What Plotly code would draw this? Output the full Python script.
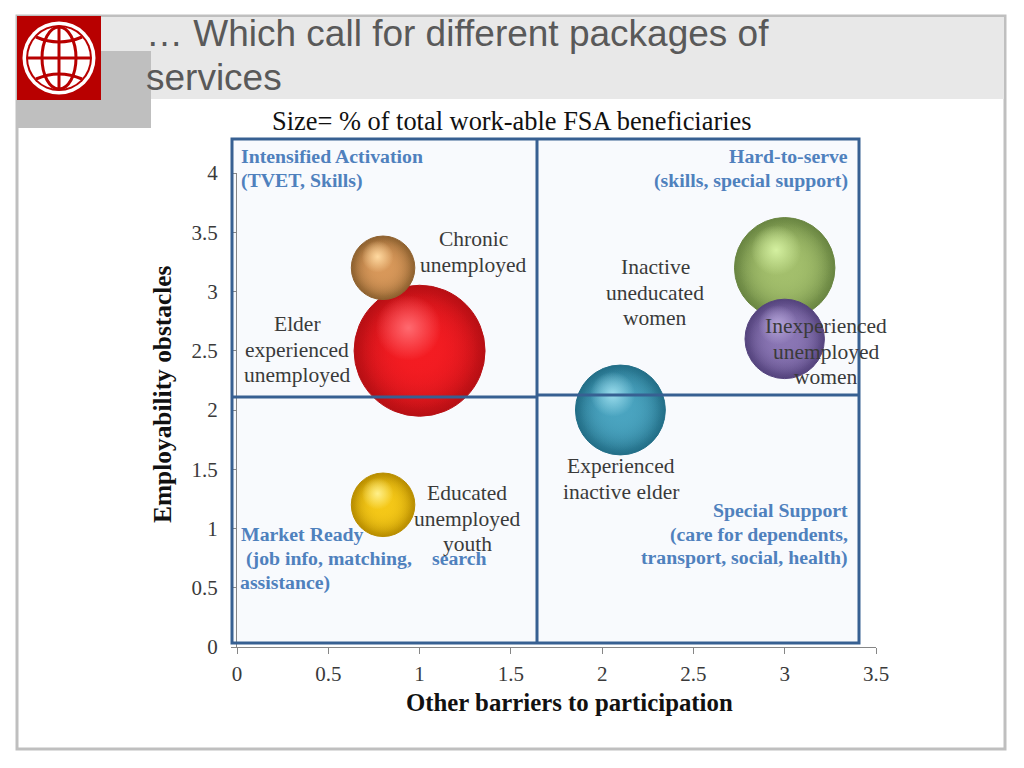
import plotly.graph_objects as go

# the page body keeps its 8px margin, so the figure is drawn that much smaller
PAGE_W, PAGE_H = 1024, 768
BODY = 8
W, H = PAGE_W - BODY, PAGE_H - BODY

# bubbles, draw order matters (orange sits on red, purple on green)
x_vals = [1.0, 0.8, 0.8, 2.1, 3.0, 3.0]
y_vals = [2.5, 3.2, 1.2, 2.0, 3.2, 2.6]
shares = [34, 8, 8, 16, 20, 12.5]
ball_colors = ["#f41c22", "#d8985a", "#f5c818", "#4aa4c0", "#a3bf6c", "#8a76b4"]
edge_colors = ["#b80f14", "#8f6230", "#b98e00", "#236f88", "#6a8642", "#55447e"]
glow_colors = ["#ff6a70", "#ffd9a0", "#fff08a", "#9adcec", "#d4f0a0", "#b4a4d8"]

x_ticks = [0, 0.5, 1, 1.5, 2, 2.5, 3, 3.5]
y_ticks = [0, 0.5, 1, 1.5, 2, 2.5, 3, 3.5, 4]

title_lines = ["… Which call for different packages of", "services"]
subtitle = "Size= % of total work-able FSA beneficiaries"
x_title = "Other barriers to participation"
y_title = "Employability obstacles"

# text, centre x px, first line y px
bubble_labels = [
    (["Chronic", "unemployed"], 473, 239),
    (["Inactive", "uneducated", "women"], 655, 267),
    (["Inexperienced", "unemployed", "women"], 826, 326),
    (["Elder", "experienced", "unemployed"], 297, 324),
    (["Experienced", "inactive elder"], 621, 466),
    (["Educated", "unemployed", "youth"], 467, 493),
]

# text, x px, y px, anchor
box_labels = [
    ("Intensified Activation", 241, 156, "left"),
    ("(TVET, Skills)", 241, 180, "left"),
    ("Hard-to-serve", 848, 156, "right"),
    ("(skills, special support)", 848, 180, "right"),
    ("Market Ready", 241, 534, "left"),
    ("(job info, matching,", 246, 558, "left"),
    ("search", 432, 558, "left"),
    ("assistance)", 240, 582, "left"),
    ("Special Support", 848, 510, "right"),
    ("(care for dependents,", 848, 534, "right"),
    ("transport, social, health)", 848, 557, "right"),
]

BLUE = "#376092"
SIZEREF = 2 * 34 / 131 ** 2
X_PX = (876 - 237) / 3.5
Y_PX = (647 - 173) / 4


def px(x):
    return (x - BODY) / W


def py(y):
    return 1 - (y - BODY) / H


def clear(color):
    r, g, b = int(color[1:3], 16), int(color[3:5], 16), int(color[5:7], 16)
    return f"rgba({r},{g},{b},0)"


def rect(x0, y0, x1, y1, fill=None, line=None, width=0, layer="below"):
    return dict(type="rect", xref="paper", yref="paper", x0=px(x0), x1=px(x1), y0=py(y0), y1=py(y1),
                fillcolor=fill, line=dict(color=line, width=width), layer=layer)


def seg(x0, y0, x1, y1, color=BLUE, width=3):
    return dict(type="line", xref="paper", yref="paper", x0=px(x0), x1=px(x1), y0=py(y0), y1=py(y1),
                line=dict(color=color, width=width), layer="above")


def oval(cx, cy, rx, ry, fill=None, line=None, width=0):
    return dict(type="circle", xref="paper", yref="paper", x0=px(cx - rx), x1=px(cx + rx),
                y0=py(cy - ry), y1=py(cy + ry), fillcolor=fill, line=dict(color=line, width=width), layer="above")


def curve(x0, y0, cx, cy, x1, y1, color="#b80000", width=3):
    d = f"M {px(x0)} {py(y0)} Q {px(cx)} {py(cy)} {px(x1)} {py(y1)}"
    return dict(type="path", xref="paper", yref="paper", path=d, line=dict(color=color, width=width), layer="above")


def note(text, x, y, size, color, anchor="center", family="Liberation Serif", angle=0):
    return dict(text=text, xref="paper", yref="paper", x=px(x), y=py(y), xanchor=anchor, yanchor="middle",
                showarrow=False, textangle=angle, borderpad=0, borderwidth=0,
                font=dict(family=family, size=size, color=color))


# in a radial marker gradient gradient.color is the centre, marker.color the outside
def ball_layer(x, y, size, centre, outer, line=None):
    return go.Scatter(
        x=[x], y=[y], mode="markers", hoverinfo="skip", showlegend=False,
        marker=dict(size=[size], sizemode="area", sizeref=SIZEREF, color=outer, opacity=1,
                    gradient=dict(type="radial", color=centre),
                    line=dict(color=line or "rgba(0,0,0,0)", width=1 if line else 0)),
    )


fig = go.Figure()

for i in range(len(x_vals)):
    radius = (2 * shares[i] / SIZEREF) ** 0.5 / 2
    # dark rim, flat body over it (twice, to keep the middle even), then a soft highlight
    fig.add_trace(ball_layer(x_vals[i], y_vals[i], shares[i], ball_colors[i], edge_colors[i], edge_colors[i]))
    fig.add_trace(ball_layer(x_vals[i], y_vals[i], shares[i] * 0.95, ball_colors[i], clear(ball_colors[i])))
    fig.add_trace(ball_layer(x_vals[i], y_vals[i], shares[i] * 0.8, ball_colors[i], clear(ball_colors[i])))
    fig.add_trace(ball_layer(x_vals[i] - 0.17 * radius / X_PX, y_vals[i] + 0.35 * radius / Y_PX, shares[i] * 0.25,
                             glow_colors[i], clear(glow_colors[i])))

shapes = [
    rect(17, 16, 1005, 749, fill="white", line="#bfbfbf", width=3),
    rect(100, 17, 1004, 99, fill="#e8e8e8"),
    rect(18, 51, 151, 128, fill="#bfbfbf"),
    rect(17, 16, 101, 100, fill="#b80000"),
    rect(232, 139, 859, 643, fill="#f8fafd"),
]
# logo
shapes += [
    oval(59, 58, 36.5, 36.5, fill="white"),
    oval(59, 58, 33, 33, fill="#b80000"),
    oval(59, 58, 31, 31, fill="white"),
    oval(59, 58, 17, 31, line="#b80000", width=3),
    seg(59, 27, 59, 89, color="#b80000"),
    seg(28, 58, 90, 58, color="#b80000"),
    curve(36, 37, 59, 47, 82, 37),
    curve(36, 79, 59, 69, 82, 79),
]
# quadrant box
shapes += [
    rect(232, 139, 859, 643, line=BLUE, width=3, layer="above"),
    seg(537, 139, 537, 643),
    seg(232, 397, 537, 397),
    seg(537, 395, 859, 395),
]

annotations = [
    note(title_lines[0], 146, 34, 37, "#595959", "left", "Liberation Sans"),
    note(title_lines[1], 146, 78, 37, "#595959", "left", "Liberation Sans"),
    note(subtitle, 272, 121, 26.4, "#111111", "left"),
    note(f"<b>{x_title}</b>", 569.5, 702, 24.8, "#111111"),
    note(f"<b>{y_title}</b>", 162, 394, 25.4, "#111111", angle=-90),
]

for lines, cx, top in bubble_labels:
    for n, line in enumerate(lines):
        annotations.append(note(line, cx, top + n * 25.7, 21.5, "#3a3a3a"))

for text, x, y, anchor in box_labels:
    annotations.append(note(f"<b>{text}</b>", x, y, 19.8, "#4f81bd", anchor))

fig.update_layout(
    width=W, height=H,
    autosize=False,
    margin=dict(l=0, r=0, t=0, b=0, autoexpand=False),
    paper_bgcolor="white",
    plot_bgcolor="rgba(0,0,0,0)",
    showlegend=False,
    shapes=shapes,
    annotations=annotations,
    font=dict(family="Liberation Serif", size=21, color="#3a3a3a"),
    xaxis=dict(domain=[px(237), px(876)], range=[0, 3.5], tickmode="array", tickvals=x_ticks,
               ticktext=[f"{v:g}" for v in x_ticks], showgrid=False, zeroline=False, showline=True,
               linecolor="#868686", linewidth=1, ticks="outside", ticklen=6, tickcolor="#868686",
               ticklabelstandoff=2, tickfont=dict(size=21, color="#3a3a3a")),
    yaxis=dict(domain=[py(647), py(173)], range=[0, 4], tickmode="array", tickvals=y_ticks,
               ticktext=[f"{v:g}" for v in y_ticks], showgrid=False, zeroline=False, showline=True,
               linecolor="#868686", linewidth=1, ticks="outside", ticklen=5, tickcolor="#868686",
               ticklabelstandoff=9, tickfont=dict(size=21, color="#3a3a3a")),
)

fig.write_html("out.html")
